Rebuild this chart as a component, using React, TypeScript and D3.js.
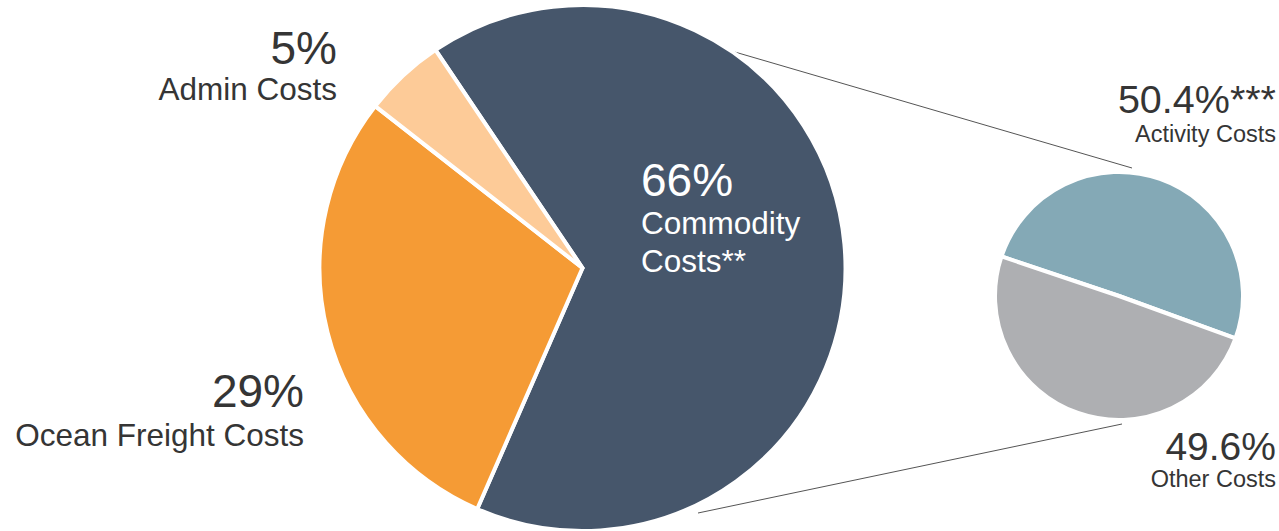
import React from "react";
import * as d3 from "d3";

const mainCategories = ["Commodity Costs**", "Ocean Freight Costs", "Admin Costs"];
const mainValues = [66, 29, 5];
const mainPctLabels = ["66%", "29%", "5%"];
const mainColors = ["#46566b", "#f59b35", "#fdcb98"];

const subCategories = ["Activity Costs", "Other Costs"];
const subValues = [50.4, 49.6];
const subPctLabels = ["50.4%***", "49.6%"];
const subColors = ["#84a9b6", "#aeafb2"];

const W = 1279;
const H = 531;
const FONT = "'Liberation Sans', Arial, Helvetica, sans-serif";
const deg = Math.PI / 180;

export default function App() {
  const bigC = { x: 582.5, y: 268 };
  const bigR = 263;
  const smallC = { x: 1119, y: 296 };
  const smallR = 124;

  const bigPie = d3
    .pie<number>()
    .sort(null)
    .startAngle(-34 * deg)
    .endAngle(-34 * deg + 2 * Math.PI)(mainValues);
  const smallPie = d3
    .pie<number>()
    .sort(null)
    .startAngle(-71.4 * deg)
    .endAngle(-71.4 * deg + 2 * Math.PI)(subValues);

  const bigArc = d3.arc<d3.PieArcDatum<number>>().innerRadius(0).outerRadius(bigR);
  const smallArc = d3.arc<d3.PieArcDatum<number>>().innerRadius(0).outerRadius(smallR);

  const textColor = "#353535";

  return (
    <svg
      width={W}
      height={H}
      style={{ position: "absolute", left: 0, top: 0, background: "#fff" }}
      fontFamily={FONT}
    >
      {/* connector lines */}
      <line x1={728} y1={50} x2={1132} y2={168} stroke="#555" strokeWidth={1} />
      <line x1={698} y1={513} x2={1122} y2={424} stroke="#555" strokeWidth={1} />

      <g transform={`translate(${bigC.x},${bigC.y})`}>
        {bigPie.map((d, i) => (
          <path key={i} d={bigArc(d) || ""} fill={mainColors[i]} stroke="#fff" strokeWidth={4} strokeLinejoin="round" />
        ))}
      </g>
      <g transform={`translate(${smallC.x},${smallC.y})`}>
        {smallPie.map((d, i) => (
          <path key={i} d={smallArc(d) || ""} fill={subColors[i]} stroke="#fff" strokeWidth={4} strokeLinejoin="round" />
        ))}
      </g>

      {/* Commodity label (inside) */}
      <text x={641} y={196} fill="#fff" fontSize={46}>{mainPctLabels[0]}</text>
      <text x={641} y={234} fill="#fff" fontSize={31.5}>Commodity</text>
      <text x={641} y={272} fill="#fff" fontSize={31.5}>Costs**</text>

      {/* Ocean freight */}
      <text x={304} y={407} fill={textColor} fontSize={46} textAnchor="end">{mainPctLabels[1]}</text>
      <text x={304} y={446} fill={textColor} fontSize={31.5} textAnchor="end">{mainCategories[1]}</text>

      {/* Admin */}
      <text x={337} y={64} fill={textColor} fontSize={46} textAnchor="end">{mainPctLabels[2]}</text>
      <text x={337} y={100} fill={textColor} fontSize={31.5} textAnchor="end">{mainCategories[2]}</text>

      {/* Activity */}
      <text x={1276} y={113} fill={textColor} fontSize={39.5} textAnchor="end">{subPctLabels[0]}</text>
      <text x={1276} y={142} fill={textColor} fontSize={23.5} textAnchor="end">{subCategories[0]}</text>

      {/* Other */}
      <text x={1276} y={460} fill={textColor} fontSize={39} textAnchor="end">{subPctLabels[1]}</text>
      <text x={1276} y={487} fill={textColor} fontSize={23.5} textAnchor="end">{subCategories[1]}</text>
    </svg>
  );
}
